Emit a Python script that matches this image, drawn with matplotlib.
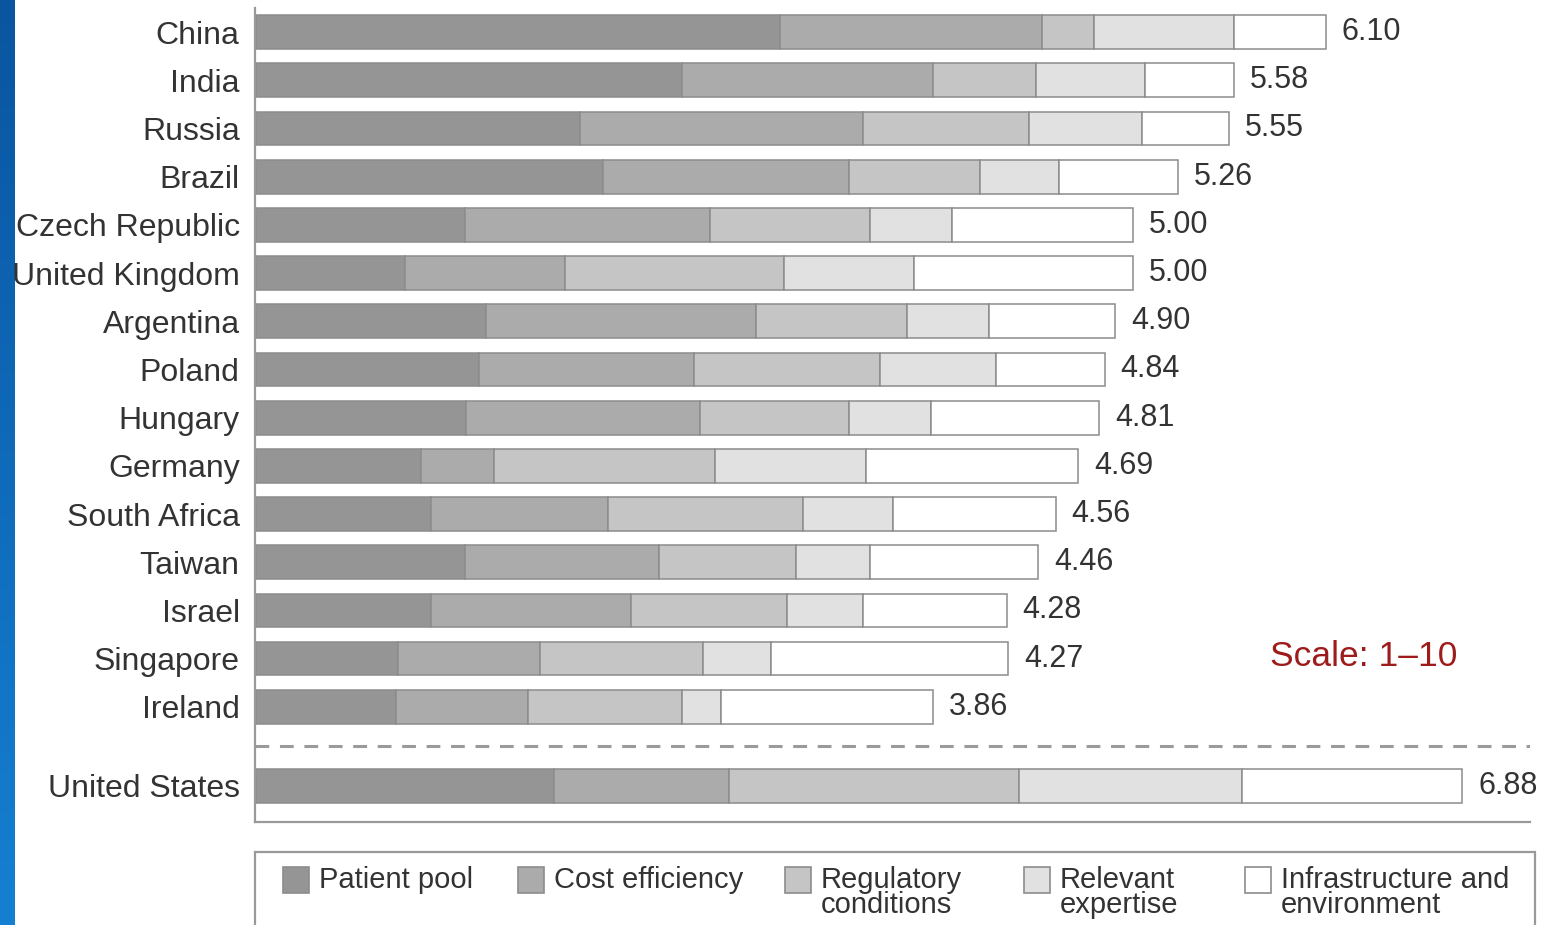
import numpy as np
import matplotlib
matplotlib.use('Agg')
import matplotlib.pyplot as plt
from matplotlib.patches import Rectangle
from matplotlib.colors import LinearSegmentedColormap

plt.rcParams['font.family'] = ['Liberation Sans', 'DejaVu Sans']

countries = ["China", "India", "Russia", "Brazil", "Czech Republic", "United Kingdom",
             "Argentina", "Poland", "Hungary", "Germany", "South Africa", "Taiwan",
             "Israel", "Singapore", "Ireland", "United States"]
totals = ["6.10", "5.58", "5.55", "5.26", "5.00", "5.00", "4.90", "4.84", "4.81",
          "4.69", "4.56", "4.46", "4.28", "4.27", "3.86", "6.88"]

patient_pool = [2.99, 2.43, 1.85, 1.98, 1.19, 0.85, 1.31, 1.27, 1.20, 0.94, 1.00, 1.19, 1.00, 0.81, 0.80, 1.70]
cost_eff     = [1.49, 1.43, 1.61, 1.40, 1.40, 0.91, 1.54, 1.23, 1.33, 0.42, 1.01, 1.11, 1.14, 0.81, 0.75, 1.00]
regulatory   = [0.30, 0.59, 0.95, 0.75, 0.91, 1.25, 0.86, 1.06, 0.85, 1.26, 1.11, 0.78, 0.89, 0.93, 0.88, 1.65]
expertise    = [0.80, 0.62, 0.64, 0.45, 0.47, 0.74, 0.47, 0.66, 0.47, 0.86, 0.51, 0.42, 0.43, 0.39, 0.22, 1.27]
infra        = [0.52, 0.51, 0.50, 0.68, 1.03, 1.25, 0.72, 0.62, 0.96, 1.21, 0.93, 0.96, 0.82, 1.35, 1.21, 1.26]

series = [patient_pool, cost_eff, regulatory, expertise, infra]
labels = ["Patient pool", "Cost efficiency", "Regulatory\nconditions",
          "Relevant\nexpertise", "Infrastructure and\nenvironment"]
colors = ["#959595", "#ababab", "#c5c5c5", "#e1e1e1", "#ffffff"]
edge = "#8c8c8c"

W, H = 1545, 925
fig = plt.figure(figsize=(W / 100, H / 100), dpi=100)

# blue strip on the left
sax = fig.add_axes([0, 0, 15 / W, 1])
grad = np.linspace(0, 1, 256).reshape(-1, 1)
cm = LinearSegmentedColormap.from_list("b", ["#0a55a0", "#1580d2"])
sax.imshow(grad, aspect='auto', cmap=cm, extent=[0, 1, 0, 1])
sax.axis('off')

# main axes: x=0 at ~256px, 175.5px per unit
left_px, right_px, top_px, bot_px = 255, 1530, 8, 822
ax = fig.add_axes([left_px / W, 1 - bot_px / H, (right_px - left_px) / W, (bot_px - top_px) / H])
ax.set_xlim(-0.005, (right_px - left_px) / 175.5)

pos = list(range(15)) + [15.64]
ax.set_ylim(16.39, -0.5)

lefts = np.zeros(len(countries))
for vals, c in zip(series, colors):
    ax.barh(pos, vals, left=lefts, height=0.70, color=c, edgecolor=edge, linewidth=1.1)
    lefts = lefts + np.array(vals)

for p, tot, t in zip(pos, lefts, totals):
    ax.text(tot + 0.09, p, t, va='center', ha='left', fontsize=22, color="#333333")

ax.axhline(14.81, color="#9a9a9a", lw=2.2, dashes=(4.5, 3.5))

ax.set_yticks(pos)
ax.set_yticklabels(countries, fontsize=23, color="#333333")
ax.tick_params(axis='y', length=0, pad=11)
ax.set_xticks([])
for s in ['top', 'right']:
    ax.spines[s].set_visible(False)
ax.spines['left'].set_color("#999999")
ax.spines['left'].set_linewidth(1.6)
ax.spines['bottom'].set_color("#999999")
ax.spines['bottom'].set_linewidth(1.6)

fig.text(1270 / W, 1 - 657 / H, "Scale: 1\u201310", color="#9e1b1b", fontsize=25.5,
         va='center', ha='left')

# legend box (runs off the bottom)
fig.patches.append(Rectangle((255 / W, -0.02), (1535 - 255) / W, (0.02 + 1 - 852 / H),
                             transform=fig.transFigure, facecolor='white',
                             edgecolor="#999999", lw=1.6))
sw_x = [283, 518, 785, 1024, 1245]
for x, lab, c in zip(sw_x, labels, colors):
    fig.patches.append(Rectangle((x / W, 1 - 893 / H), 26 / W, 26 / H,
                                 transform=fig.transFigure, facecolor=c,
                                 edgecolor="#8c8c8c", lw=1.2))
    fig.text((x + 36) / W, 1 - 866 / H, lab, fontsize=21, color="#333333",
             va='top', ha='left', linespacing=0.85)

fig.savefig("out.png", dpi=100)
